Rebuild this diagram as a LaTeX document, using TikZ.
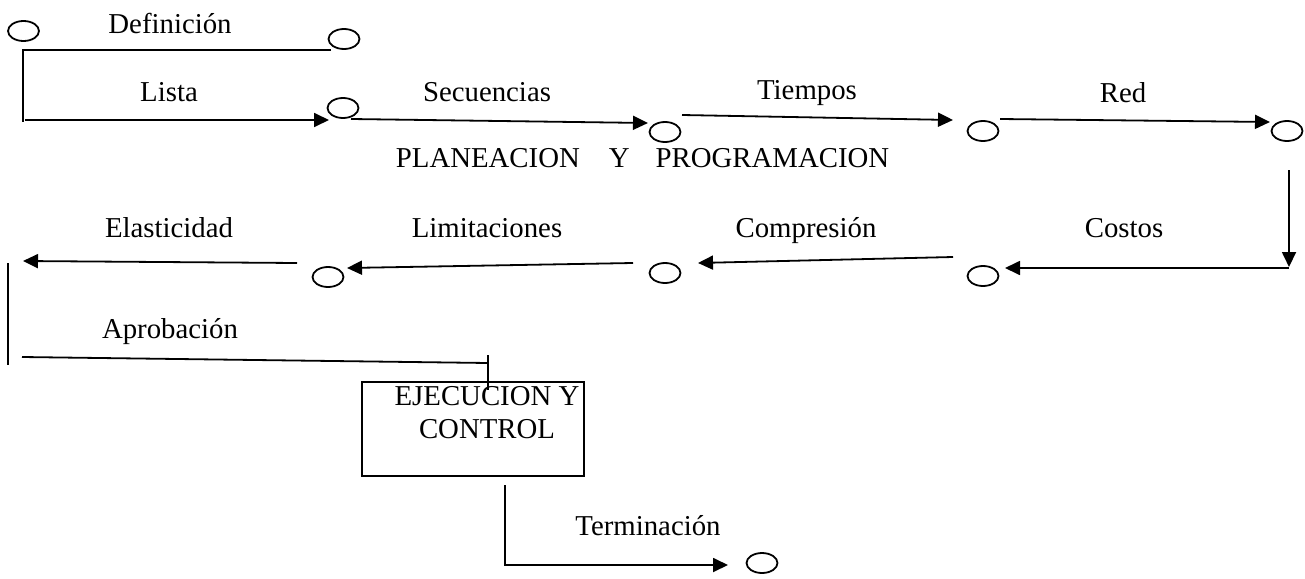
\documentclass[tikz,border=0pt]{standalone}
\usepackage{fontspec}
\setmainfont{Liberation Serif}
\usetikzlibrary{arrows.meta,shapes.geometric}
\begin{document}
\begin{tikzpicture}[x=1pt,y=-1pt,
  line width=1.8pt,
  ev/.style={draw, ellipse, minimum width=31pt, minimum height=20pt, inner sep=0pt},
  lbl/.style={anchor=base, inner sep=0pt, font=\fontsize{28.8}{34}\selectfont},
  arr/.style={-{Triangle[length=15pt,width=14pt]}}]
\fill[white] (0,0) rectangle (1305,578);
\useasboundingbox (0,0) rectangle (1305,578);

% events
\node[ev] (c1) at (23.5,31) {};
\node[ev] (c2) at (344,39) {};
\node[ev] (c3) at (343,108) {};
\node[ev] (c4) at (665,132) {};
\node[ev] (c5) at (983,131) {};
\node[ev] (c6) at (1287,131) {};
\node[ev] (c7) at (983,276) {};
\node[ev] (c8) at (665,273) {};
\node[ev] (c9) at (328,277) {};
\node[ev] (c10) at (762,563) {};

% labels
\node[lbl] (tdef) at (170,34) {Definición};
\node[lbl] (tlista) at (169,101) {Lista};
\node[lbl] (tsec) at (487,101) {Secuencias};
\node[lbl] (ttiem) at (807,99) {Tiempos};
\node[lbl] (tred) at (1123,102) {Red};
\node[lbl, anchor=base west] (tplan) at (395,167) {PLANEACION\hspace{29pt}Y\hspace{26pt}PROGRAMACION};
\node[lbl] (tcos) at (1124,237) {Costos};
\node[lbl] (tcomp) at (806,237) {Compresión};
\node[lbl] (tlim) at (487,237) {Limitaciones};
\node[lbl] (tela) at (169,237) {Elasticidad};
\node[lbl] (tapr) at (170,338) {Aprobación};
\node[lbl] (tterm) at (648,535) {Terminación};

% box
\node[draw, minimum width=222pt, minimum height=94pt, inner sep=0pt] (box) at (473,429) {};
\node[lbl, anchor=north, align=center, font=\fontsize{28.8}{33}\selectfont] (btext) at (487,386) {EJECUCION Y\\CONTROL};

% connector end points
\coordinate (a1) at (331,50);
\coordinate (a2) at (23,50);
\coordinate (a3) at (23,122);
\coordinate (b1) at (25,120);
\coordinate (b2) at (329,120);
\coordinate (s1) at (351,119);
\coordinate (s2) at (648,123);
\coordinate (t1) at (682,115);
\coordinate (t2) at (953,120);
\coordinate (r1) at (1000,119);
\coordinate (r2) at (1270,122);
\coordinate (v1) at (1289,170);
\coordinate (v2) at (1289,267);
\coordinate (k1) at (1289,268);
\coordinate (k2) at (1005,268);
\coordinate (m1) at (953,257);
\coordinate (m2) at (698,263);
\coordinate (l1) at (633,263);
\coordinate (l2) at (347,268);
\coordinate (e1) at (297,263);
\coordinate (e2) at (23,261);
\coordinate (w1) at (8,263);
\coordinate (w2) at (8,365);
\coordinate (p1) at (22,357);
\coordinate (p2) at (488,363);
\coordinate (p3) at (488,355);
\coordinate (p4) at (488,390);
\coordinate (q1) at (505,485);
\coordinate (q2) at (505,565);
\coordinate (q3) at (728,565);

% connectors
\draw (a1) -- (a2) -- (a3);
\draw[arr] (b1) -- (b2);
\draw[arr] (s1) -- (s2);
\draw[arr] (t1) -- (t2);
\draw[arr] (r1) -- (r2);
\draw[arr] (v1) -- (v2);
\draw[arr] (k1) -- (k2);
\draw[arr] (m1) -- (m2);
\draw[arr] (l1) -- (l2);
\draw[arr] (e1) -- (e2);
\draw (w1) -- (w2);
\draw (p1) -- (p2);
\draw (p3) -- (p4);
\draw[arr] (q1) -- (q2) -- (q3);
\end{tikzpicture}
\end{document}
